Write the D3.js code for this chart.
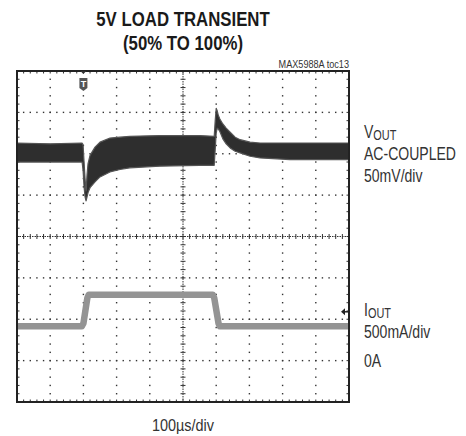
<!DOCTYPE html>
<html>
<head>
<meta charset="utf-8">
<script src="https://cdn.jsdelivr.net/npm/d3@7"></script>
<style>
  body { margin: 0; background: #fff; }
  text { font-family: "Liberation Sans", Arial, sans-serif; }
</style>
</head>
<body>
<div id="holder"></div>
<script>
const w = 466;
const h = 436;

// time in us (10 div x 100us/div)
const xDomain = [0, 1000];
const xDivs = 10;
const yDivs = 8;
const minorPerDiv = 5;

// VOUT ch (AC-coupled, mV), envelope of the noisy band
const vTime  = [0, 100, 196, 199, 202, 205, 208, 211, 214, 220, 235, 250, 280, 310, 340, 430, 550, 594, 597, 600, 603, 606, 611, 620, 630, 642, 657, 672, 702, 732, 822, 900, 1000];
const vUpper = [13, 12, 13, 11, -10, -30, -45, -25, -12, -2, 8, 14, 19, 20, 21, 22, 22, 21, 40, 55, 52, 47, 42, 36, 31, 26, 20, 17, 14, 13, 13, 13, 13];
const vLower = [-10, -10, -10, -20, -40, -52, -57, -52, -47, -41, -34, -28, -22, -19, -17, -15, -14, -14, 5, 25, 31, 30, 27, 18, 12, 7, 3, 1, -3, -5, -7, -7, -7];
const vOffsetDiv = 2;
const vPerDiv = 50;

// IOUT ch (mA)
const iTime = [0, 195, 200, 212, 216, 590, 594, 607, 611, 1000];
const iVal  = [415, 415, 450, 760, 795, 795, 760, 450, 415, 415];
const iOffsetDiv = -3;
const iPerDiv = 500;

const triggerTime = 200;
const triggerLevel = 590;

const rightLabels = [
  {main: "V", sub: "OUT", y: 138},
  {main: "AC-COUPLED", y: 160},
  {main: "50mV/div", y: 182},
  {main: "I", sub: "OUT", y: 316},
  {main: "500mA/div", y: 338},
  {main: "0A", y: 367}
];

const pL = 17, pR = 349, pT = 71, pB = 402;

let svg = d3.select("#holder")
    .append("svg")
    .attr("width", w)
    .attr("height", h);

// condensed text: no narrow font installed, so squeeze horizontally
function addText(x, y, str, size, sx, anchor, weight, fill) {
    return svg.append("text")
        .attr("transform", "translate(" + x + "," + y + ") scale(" + sx + ",1)")
        .attr("text-anchor", anchor || "start")
        .attr("font-size", size)
        .attr("font-weight", weight || "normal")
        .attr("fill", fill || "#333")
        .text(str);
}

let xScale = d3.scaleLinear().domain(xDomain).range([pL, pR]);
let yScale = d3.scaleLinear().domain([-yDivs / 2, yDivs / 2]).range([pB, pT]);
const vY = mv => yScale(vOffsetDiv + mv / vPerDiv);
const iY = ma => yScale(iOffsetDiv + ma / iPerDiv);

const xStep = (xDomain[1] - xDomain[0]) / xDivs;
const xMinor = xStep / minorPerDiv;

// dotted grid
let grid = svg.append("g").attr("fill", "#333");
for (let i = 1; i < xDivs; i++) {
    if (i == xDivs / 2) continue;
    let gx = xScale(i * xStep);
    for (let j = 1; j < yDivs * minorPerDiv; j++) {
        grid.append("rect").attr("x", gx - 0.7).attr("y", yScale(-yDivs / 2 + j / minorPerDiv) - 0.7)
            .attr("width", 1.4).attr("height", 1.4);
    }
}
for (let j = 1; j < yDivs; j++) {
    if (j == yDivs / 2) continue;
    let gy = yScale(-yDivs / 2 + j);
    for (let i = 1; i < xDivs * minorPerDiv; i++) {
        grid.append("rect").attr("x", xScale(i * xMinor) - 0.7).attr("y", gy - 0.7)
            .attr("width", 1.4).attr("height", 1.4);
    }
}

// center axes with minor ticks
let axes = svg.append("g").attr("stroke", "#333").attr("stroke-width", 1);
let cx = xScale(xDomain[1] / 2), cy = yScale(0);
axes.append("line").attr("x1", pL).attr("x2", pR).attr("y1", cy).attr("y2", cy)
    .attr("stroke-dasharray", "1.5,1");
axes.append("line").attr("y1", pT).attr("y2", pB).attr("x1", cx).attr("x2", cx)
    .attr("stroke-dasharray", "1.5,1");
for (let i = 1; i < xDivs * minorPerDiv; i++) {
    let tx = xScale(i * xMinor);
    axes.append("line").attr("x1", tx).attr("x2", tx).attr("y1", cy - 2.5).attr("y2", cy + 2.5);
    axes.append("line").attr("x1", tx).attr("x2", tx).attr("y1", pT).attr("y2", pT + 2.5);
    axes.append("line").attr("x1", tx).attr("x2", tx).attr("y1", pB).attr("y2", pB - 2.5);
}
for (let j = 1; j < yDivs * minorPerDiv; j++) {
    let ty = yScale(-yDivs / 2 + j / minorPerDiv);
    axes.append("line").attr("y1", ty).attr("y2", ty).attr("x1", cx - 2.5).attr("x2", cx + 2.5);
    axes.append("line").attr("y1", ty).attr("y2", ty).attr("x1", pL).attr("x2", pL + 2.5);
    axes.append("line").attr("y1", ty).attr("y2", ty).attr("x1", pR).attr("x2", pR - 2.5);
}

// IOUT trace
let iLine = d3.line()
    .x((d, i) => xScale(iTime[i]))
    .y(d => iY(d));
svg.append("path")
    .attr("d", iLine(iVal))
    .attr("fill", "none")
    .attr("stroke", "#949494")
    .attr("stroke-width", 6.5)
    .attr("stroke-linejoin", "round");

// VOUT band
let vArea = d3.area()
    .x((d, i) => xScale(vTime[i]))
    .y0((d, i) => vY(vLower[i]))
    .y1((d, i) => vY(vUpper[i]));
svg.append("path")
    .attr("d", vArea(vUpper))
    .attr("fill", "#2e2e2e")
    .attr("stroke", "#555")
    .attr("stroke-width", 1.2)
    .attr("stroke-linejoin", "round");

// frame
svg.append("rect")
    .attr("x", pL).attr("y", pT)
    .attr("width", pR - pL).attr("height", pB - pT)
    .attr("fill", "none").attr("stroke", "#222").attr("stroke-width", 2);

// trigger marker T
let trigX = xScale(triggerTime);
svg.append("path")
    .attr("d", `M${trigX - 3},${pT} L${trigX + 3},${pT} L${trigX},${pT + 3} Z`)
    .attr("fill", "#333");
svg.append("path")
    .attr("d", `M${trigX - 4},${pT + 7} L${trigX + 4},${pT + 7} L${trigX + 4},${pT + 17} L${trigX},${pT + 20} L${trigX - 4},${pT + 17} Z`)
    .attr("fill", "#555");
addText(trigX, pT + 16, "T", 9, 1, "middle", "bold", "#fff");

// trigger level arrow
let ay = iY(triggerLevel);
svg.append("path")
    .attr("d", `M${pR - 8},${ay} L${pR - 4},${ay - 3.5} L${pR - 4},${ay + 3.5} Z`)
    .attr("fill", "#222");
svg.append("line")
    .attr("x1", pR - 5).attr("x2", pR).attr("y1", ay).attr("y2", ay)
    .attr("stroke", "#222").attr("stroke-width", 1.5);

// titles
addText(183, 26, "5V LOAD TRANSIENT", 20, 0.84, "middle", "bold", "#1a1a1a");
addText(183, 50, "(50% TO 100%)", 20, 0.84, "middle", "bold", "#1a1a1a");
addText(pR, 68, "MAX5988A toc13", 11, 0.83, "end");
addText(183, 431, "100\u00b5s/div", 17, 0.85, "middle");

// right-hand channel labels
rightLabels.forEach(l => {
    let t = addText(364, l.y, "", 18, 0.78);
    t.append("tspan").text(l.main);
    if (l.sub) {
        t.append("tspan").attr("font-size", 14).attr("dy", 2).text(l.sub);
    }
});
</script>
</body>
</html>
